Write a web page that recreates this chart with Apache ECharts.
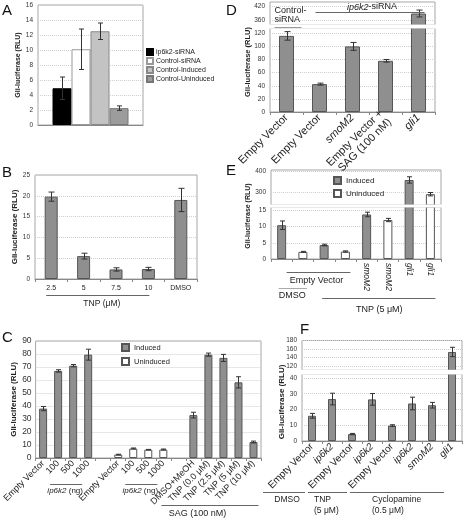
<!DOCTYPE html>
<html><head><meta charset="utf-8">
<script src="https://cdn.jsdelivr.net/npm/echarts@6/dist/echarts.min.js"></script>
<style>html,body{margin:0;padding:0;background:#fff}#c{width:464px;height:524px}</style>
</head><body><div id="c"></div>
<script>
// ---------- DATA ----------
const aSeriesNames = ['ip6k2-siRNA', 'Control-siRNA', 'Control-Induced', 'Control-Uninduced'];
const aValues = [4.9, 10.1, 12.5, 2.25];
const aErrors = [1.5, 2.7, 1.1, 0.3];

const bCategories = ['2.5', '5', '7.5', '10', 'DMSO'];
const bValues = [19.8, 5.5, 2.3, 2.4, 19.0];
const bErrors = [1.1, 0.7, 0.4, 0.4, 2.8];

const cCategories = ['Empty Vector', '100', '500', '1000', '', 'Empty Vector', '100', '500', '1000', '', 'DMSO+MeOH', 'TNP (0.0 μM)', 'TNP (2.5 μM)', 'TNP (5 μM)', 'TNP (10 μM)'];
const cInduced =      [38, 67, 71, 79.5, null, null, null, null, null, null, 33, 79.5, 77, 58.2, 12.3];
const cInducedErr =   [1.6, 0.9, 0.9, 4.2, null, null, null, null, null, null, 2.2, 1.2, 2.7, 4.3, 0.7];
const cUninduced =    [null, null, null, null, null, 2.6, 7.3, 6.4, 6.5, null, null, null, null, null, null];
const cUninducedErr = [null, null, null, null, null, 0.3, 0.4, 0.2, 0.4, null, null, null, null, null, null];

const dCategories = ['Empty Vector', 'Empty Vector', 'smoM2', 'Empty Vector +\nSAG (100 nM)', 'gli1'];
const dValues = [116, 42.5, 100, 78, 390];
const dErrors = [6.5, 1.5, 6, 2, 15];

const eCategories = ['', '', '', '', 'smoM2', 'smoM2', 'gli1', 'gli1'];
const eInduced =      [10.4, null, 4.3, null, 13.7, null, 358, null];
const eInducedErr =   [1.3, null, 0.25, null, 0.7, null, 15, null];
const eUninduced =    [null, 2.2, null, 2.3, null, 12.0, null, 291];
const eUninducedErr = [null, 0.15, null, 0.2, null, 0.5, null, 8];

const fCategories = ['Empty Vector', 'ip6k2', 'Empty Vector', 'ip6k2', 'Empty Vector', 'ip6k2', 'smoM2', 'gli1'];
const fValues = [16, 26.6, 4.4, 26.4, 9.8, 23.8, 22.7, 153];
const fErrors = [1.5, 3.7, 0.4, 3.7, 0.5, 4, 1.8, 11];

const yName = 'Gli-luciferase (RLU)';
const italicWords = ['ip6k2', 'smoM2', 'gli1'];

// ---------- STYLE / LAYOUT ----------
const FONT = 'Liberation Sans, Arial, Helvetica, sans-serif';
const GRAY = '#8f8f8f', GRAY_B = '#555';
const GRID_LINE = '#cfcfcf';
const L = {
  A:  {left: 38,  top: 5,     width: 105, height: 120},
  B:  {left: 35,  top: 175,   width: 162, height: 104},
  C:  {left: 34,  top: 341,   width: 227, height: 117},
  Du: {left: 270, top: 2,     width: 165, height: 23},
  Dl: {left: 270, top: 28,    width: 165, height: 84},
  Eu: {left: 271, top: 170,   width: 170, height: 35},
  El: {left: 271, top: 207,   width: 170, height: 52},
  Fu: {left: 302, top: 340.5, width: 160, height: 29.75},
  Fl: {left: 302, top: 374,   width: 160, height: 67}
};
const aBarWidth = 19;

function gridOf(k) {
  return Object.assign({show: true, backgroundColor: '#fff', borderColor: '#a6a6a6', borderWidth: 1, containLabel: false}, L[k]);
}
const fmtCat = v => italicWords.indexOf(v) >= 0 ? '{i|' + v + '}' : v;

function xCat(gi, data, label) {
  const fs = (label && label.fontSize) || 8;
  return {
    type: 'category', gridIndex: gi, data: data,
    axisLine: {show: true, lineStyle: {color: '#888'}},
    axisTick: {show: true, length: 3, lineStyle: {color: '#888'}},
    axisLabel: Object.assign({interval: 0, color: '#222', fontFamily: FONT, formatter: fmtCat,
      rich: {i: {fontStyle: 'italic', fontSize: fs, fontFamily: FONT, color: '#222'}}}, label || {})
  };
}
function xHidden(gi, data) {
  return {type: 'category', gridIndex: gi, data: data, show: false};
}
function yVal(gi, o, label, split) {
  return Object.assign({
    type: 'value', gridIndex: gi,
    axisLine: {show: false}, axisTick: {show: false},
    axisLabel: Object.assign({fontSize: 6.5, color: '#333', fontFamily: FONT, margin: 5}, label || {}),
    splitLine: {show: true, lineStyle: Object.assign({color: GRID_LINE, type: 'dotted', width: 1}, split || {})}
  }, o);
}
function bar(name, gi, data, width, fill, border, extra) {
  return Object.assign({
    type: 'bar', name: name, xAxisIndex: gi, yAxisIndex: gi, data: data,
    barWidth: width, barGap: '-100%', clip: true,
    itemStyle: {color: fill, borderColor: border, borderWidth: 1}
  }, extra || {});
}
function errData(vals, errs, lo, hi, offs) {
  const out = [];
  vals.forEach((v, i) => {
    if (v == null || v < lo || v > hi) return;
    out.push([offs ? 0 : i, v, errs[i], offs ? offs[i] : 0]);
  });
  return out;
}
function errSeries(gi, data, cap) {
  return {
    type: 'custom', xAxisIndex: gi, yAxisIndex: gi, data: data, z: 5, clip: true, silent: true,
    encode: {x: 0, y: 1},
    renderItem: function (params, api) {
      const c = api.value(0), v = api.value(1), e = api.value(2), off = api.value(3) || 0;
      const p1 = api.coord([c, v + e]), p2 = api.coord([c, v - e]);
      const x = Math.round(p1[0] + off) + 0.5;
      const s = {stroke: '#333', lineWidth: 1};
      return {type: 'group', children: [
        {type: 'line', shape: {x1: x, y1: p1[1], x2: x, y2: p2[1]}, style: s},
        {type: 'line', shape: {x1: x - cap, y1: p1[1], x2: x + cap, y2: p1[1]}, style: s},
        {type: 'line', shape: {x1: x - cap, y1: p2[1], x2: x + cap, y2: p2[1]}, style: s}
      ]};
    }
  };
}
const showOnly = list => (v => list.indexOf(v) >= 0 ? String(v) : '');
const mult = m => (v => (Math.abs(v / m - Math.round(v / m)) < 1e-6) ? String(v) : '');
const yNameStyle = (fs) => ({fontSize: fs, fontWeight: 'bold', color: '#222', fontFamily: FONT});

const aOffsets = aValues.map((v, i) => (i - (aValues.length - 1) / 2) * aBarWidth);
const aColors = [['#000', '#000'], ['#fff', '#999'], ['#c3c3c3', '#888'], ['#9c9c9c', '#777']];

const above = (arr, lo) => arr.map(v => (v != null && v >= lo) ? v : null);

const option = {
  animation: false,
  textStyle: {fontFamily: FONT},
  grid: ['A', 'B', 'C', 'Du', 'Dl', 'Eu', 'El', 'Fu', 'Fl'].map(gridOf),
  xAxis: [
    {type: 'category', gridIndex: 0, data: [''], axisLine: {lineStyle: {color: '#888'}}, axisTick: {show: false}, axisLabel: {show: false}},
    xCat(1, bCategories, {fontSize: 7, margin: 6}),
    xCat(2, cCategories, {fontSize: 9, rotate: 45, margin: 4}),
    xHidden(3, dCategories),
    xCat(4, dCategories, {fontSize: 11, rotate: 45, margin: 4, lineHeight: 12}),
    xHidden(5, eCategories),
    xCat(6, eCategories, {fontSize: 8.5, rotate: -90, margin: 4}),
    xHidden(7, fCategories),
    xCat(8, fCategories, {fontSize: 10, rotate: 45, margin: 4})
  ],
  yAxis: [
    yVal(0, {min: 0, max: 16, interval: 2, name: yName, nameLocation: 'middle', nameRotate: 90, nameGap: 15, nameTextStyle: yNameStyle(7)}),
    yVal(1, {min: 0, max: 25, interval: 5, name: yName, nameLocation: 'middle', nameRotate: 90, nameGap: 15, nameTextStyle: yNameStyle(8)}),
    yVal(2, {min: 0, max: 90, interval: 10, name: yName, nameLocation: 'middle', nameRotate: 90, nameGap: 17, nameTextStyle: yNameStyle(8)}, {fontSize: 8.5, margin: 4}),
    yVal(3, {min: 340, max: 440, interval: 20}, {formatter: showOnly([360, 420])}, {color: ['transparent', GRID_LINE, 'transparent']}),
    yVal(4, {min: 0, max: 128, interval: 20}, {formatter: mult(20)}),
    yVal(5, {min: 240, max: 405, interval: 20}, {formatter: showOnly([300, 400])}, {color: ['transparent', 'transparent', 'transparent', GRID_LINE, 'transparent']}),
    yVal(6, {min: 0, max: 16, interval: 5}, {formatter: mult(5)}),
    yVal(7, {min: 110, max: 180, interval: 10}, {formatter: showOnly([120, 140, 160, 180])}, {color: ['transparent', GRID_LINE]}),
    yVal(8, {min: 0, max: 42.5, interval: 10}, {formatter: mult(10)})
  ],
  legend: [
    {data: aSeriesNames, icon: 'rect', orient: 'vertical', left: 146, top: 48, itemWidth: 6, itemHeight: 6, itemGap: 1, padding: 0,
      textStyle: {fontSize: 7, color: '#222', fontFamily: FONT, lineHeight: 8, padding: [0, 0, 0, -2]}, selectedMode: false},
    {data: ['Induced', 'Uninduced'], icon: 'rect', orient: 'vertical', left: 121, top: 343, itemWidth: 7, itemHeight: 7, itemGap: 5, padding: 0,
      textStyle: {fontSize: 7.5, color: '#222', fontFamily: FONT, lineHeight: 9}, selectedMode: false},
    {data: ['Induced', 'Uninduced'], icon: 'rect', orient: 'vertical', left: 333, top: 176, itemWidth: 7, itemHeight: 7, itemGap: 4, padding: 0,
      textStyle: {fontSize: 8, color: '#222', fontFamily: FONT, lineHeight: 9}, selectedMode: false}
  ],
  series: [].concat(
    // A
    aSeriesNames.map((n, i) => bar(n, 0, [aValues[i]], aBarWidth, aColors[i][0], aColors[i][1], {barGap: '0%'})),
    [errSeries(0, errData(aValues, aErrors, -Infinity, Infinity, aOffsets), 2.5)],
    // B
    [bar('TNP', 1, bValues, 13, GRAY, GRAY_B), errSeries(1, errData(bValues, bErrors, -Infinity, Infinity), 3)],
    // C
    [bar('Induced', 2, cInduced, 8, GRAY, GRAY_B), bar('Uninduced', 2, cUninduced, 8, '#fff', GRAY_B),
     errSeries(2, errData(cInduced, cInducedErr, -Infinity, Infinity), 2.5),
     errSeries(2, errData(cUninduced, cUninducedErr, -Infinity, Infinity), 2.5)],
    // D
    [bar('D-upper', 3, above(dValues, 340), 15, GRAY, GRAY_B), bar('D', 4, dValues, 15, GRAY, GRAY_B),
     errSeries(3, errData(dValues, dErrors, 340, 440), 3), errSeries(4, errData(dValues, dErrors, 0, 128), 3)],
    // E
    [bar('Induced', 5, above(eInduced, 240), 9, GRAY, GRAY_B), bar('Uninduced', 5, above(eUninduced, 240), 9, '#fff', GRAY_B),
     bar('Induced', 6, eInduced, 9, GRAY, GRAY_B), bar('Uninduced', 6, eUninduced, 9, '#fff', GRAY_B),
     errSeries(5, errData(eInduced, eInducedErr, 240, 405), 2.5), errSeries(5, errData(eUninduced, eUninducedErr, 240, 405), 2.5),
     errSeries(6, errData(eInduced, eInducedErr, 0, 16), 2.5), errSeries(6, errData(eUninduced, eUninducedErr, 0, 16), 2.5)],
    // F
    [bar('F-upper', 7, above(fValues, 110), 8, GRAY, GRAY_B), bar('F', 8, fValues, 8, GRAY, GRAY_B),
     errSeries(7, errData(fValues, fErrors, 110, 180), 2.5), errSeries(8, errData(fValues, fErrors, 0, 42.5), 2.5)]
  )
};

const chart = echarts.init(document.getElementById('c'), null, {renderer: 'canvas'});
chart.setOption(option);

// ---------- ANNOTATIONS (positions derived from the axes) ----------
const px = (ax, i) => chart.convertToPixel({xAxisIndex: ax}, i);
const g = [];
function line(x1, y1, x2, y2, color) {
  g.push({type: 'line', z: 100, shape: {x1: x1, y1: y1, x2: x2, y2: y2}, style: {stroke: color || '#666', lineWidth: 1}});
}
function text(str, x, y, o) {
  g.push({type: 'text', z: 101, x: x, y: y, rotation: (o && o.rotation) || 0,
    style: Object.assign({text: str, fontSize: 8.5, fontFamily: FONT, fill: '#222', align: 'center', verticalAlign: 'middle',
      rich: {i: {fontStyle: 'italic', fontSize: (o && o.fontSize) || 8.5, fontFamily: FONT, fill: '#222'}}}, o || {})});
}
function gap(k1, k2) {
  const u = L[k1], l = L[k2];
  g.push({type: 'rect', z: 99, shape: {x: u.left - 4, y: u.top + u.height - 0.5, width: u.width + 8, height: l.top - (u.top + u.height) + 1}, style: {fill: '#fff'}});
}
// panel letters
[['A', 2, 3], ['B', 2, 165], ['C', 2, 330], ['D', 226, 3], ['E', 226, 163], ['F', 300, 322]].forEach(p => {
  g.push({type: 'text', z: 101, x: p[1], y: p[2], style: {text: p[0], fontSize: 15, fontFamily: FONT, fill: '#111', align: 'left', verticalAlign: 'top'}});
});
// axis breaks
gap('Du', 'Dl'); gap('Eu', 'El'); gap('Fu', 'Fl');
// y names for broken panels
text(yName, 248, 62, {rotation: Math.PI / 2, fontSize: 7.5, fontWeight: 'bold'});
text(yName, 248, 216, {rotation: Math.PI / 2, fontSize: 7, fontWeight: 'bold'});
text(yName, 282, 402, {rotation: Math.PI / 2, fontSize: 8, fontWeight: 'bold'});

// B group
(function () {
  const x0 = px(1, 0), x3 = px(1, 3);
  line(x0 - 5, 295.5, x3 + 1, 295.5);
  text('TNP (μM)', (x0 + x3) / 2 + 2, 304);
})();
// C groups
(function () {
  const a1 = px(2, 1), a3 = px(2, 3), b1 = px(2, 6), b3 = px(2, 8), s0 = px(2, 10), s4 = px(2, 14);
  line(a1 - 8, 484.5, a3 - 6, 484.5);
  text('{i|ip6k2} (ng)', (a1 + a3) / 2 - 8, 491, {fontSize: 8});
  line(b1 - 8, 484.5, b3 - 6, 484.5);
  text('{i|ip6k2} (ng)', (b1 + b3) / 2 - 8, 491, {fontSize: 8});
  line(s0 - 32, 505.5, s4 + 5, 505.5);
  text('SAG (100 nM)', (s0 + s4) / 2 - 26, 514, {fontSize: 9});
})();
// D annotations
(function () {
  const x0 = px(4, 0), x1 = px(4, 1), x4 = px(4, 4);
  text('Control-', x0 - 12, 11, {align: 'left', fontSize: 9});
  text('siRNA', x0 - 12, 20, {align: 'left', fontSize: 9});
  line(x0 - 12, 27.5, x0 + 15, 27.5, '#999');
  text('{i|ip6k2}-siRNA', (x1 + x4) / 2 + 3, 7, {fontSize: 9});
  line(x1 - 4, 12.5, x4 + 6, 12.5, '#666');
})();
// E groups
(function () {
  const x0 = px(6, 0), x1 = px(6, 1), x2 = px(6, 2), x3 = px(6, 3), x7 = px(6, 7);
  line(x0 + 5, 272.5, x3 + 5, 272.5);
  text('Empty Vector', (x0 + x3) / 2 + 3, 281, {fontSize: 9});
  line(x0 - 3, 288.5, x1 + 4, 288.5, '#aaa');
  text('DMSO', (x0 + x1) / 2, 295.5, {fontSize: 9});
  line(x2 - 2, 298.5, x7 + 5, 298.5);
  text('TNP (5 μM)', (x2 + x7) / 2 + 2, 310, {fontSize: 9});
})();
// F groups
(function () {
  const x = i => px(8, i);
  line(x(0) - 49, 492.5, x(1) - 27, 492.5);
  text('DMSO', (x(0) + x(1)) / 2 - 35, 500, {fontSize: 8.5});
  line(x(2) - 44, 492.5, x(3) - 25, 492.5);
  text('TNP', x(2) - 38, 500, {fontSize: 8.5, align: 'left'});
  text('(5 μM)', x(2) - 38, 511, {fontSize: 8.5, align: 'left'});
  line(x(4) - 42, 492.5, x(7) - 8, 492.5);
  text('Cyclopamine', x(4) - 20, 500, {fontSize: 8.5, align: 'left'});
  text('(0.5 μM)', x(4) - 20, 511, {fontSize: 8.5, align: 'left'});
})();
chart.setOption({graphic: g});
</script>
</body></html>
